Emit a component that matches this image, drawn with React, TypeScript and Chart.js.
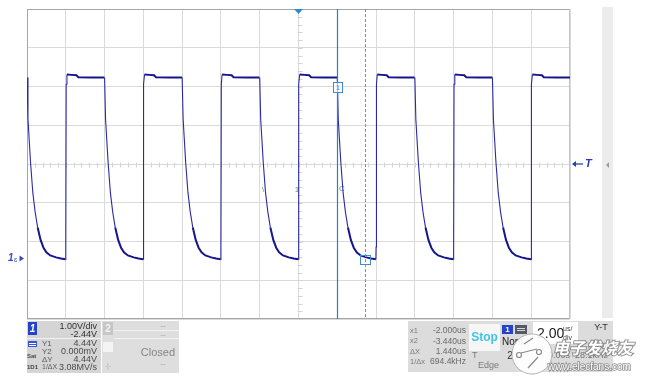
import React, { useEffect, useRef } from "react";
import { Chart, registerables } from "chart.js";

Chart.register(...registerables);

// ---------------- Data ----------------
// horizontal: 2.00 us/div, 14 divisions, trigger at centre (0 us)
const timeGridUs = [-14, -12, -10, -8, -6, -4, -2, 0, 2, 4, 6, 8, 10, 12, 14];
// vertical: 1.00 V/div, offset -2.44 V  -> centre = 2.44 V
const voltGridV = [-1.56, -0.56, 0.44, 1.44, 2.44, 3.44, 4.44, 5.44, 6.44];

// falling-edge instants of the square wave (us)
const fallTimesUs = [-14, -10, -6, -2, 2, 6, 10, 14];
// one period of the measured waveform, relative to a falling edge
const cycleOffsetUs = [0, 0.05, 0.18, 0.3, 0.42, 0.55, 0.7, 0.85, 1.0, 1.2, 1.5, 1.75, 1.99, 2.0, 2.02, 2.06, 2.3, 2.55, 2.65, 3.3, 3.99];
const cycleVolts = [4.67, 3.6, 2.5, 1.7, 1.2, 0.8, 0.48, 0.28, 0.16, 0.08, 0.03, 0.0, -0.02, 0.3, 4.5, 4.75, 4.74, 4.73, 4.68, 4.67, 4.67];

const triggerPosUs = 0;
const triggerLevelV = 2.44;
const groundLevelV = 0;
const cursorX1Us = 2.0;
const cursorX2Us = 3.44;
const cursorY1V = 4.44;
const cursorY2V = 0;

const greenMarkT = [-1.83, -0.08, 2.24];
const greenMarkV = [1.77, 1.77, 1.8];
const greenMarkS = ["\\", "1", "C"];

// readout panels
const ch1Rows = ["1.00V/div", "-2.44V"];
const cursorLabels = ["Y1", "Y2", "ΔY", "1/ΔX"];
const cursorValues = ["4.44V", "0.000mV", "4.44V", "3.08MV/s"];
const xCursorLabels = ["x1", "x2", "ΔX", "1/Δx"];
const xCursorValues = ["-2.000us", "-3.440us", "1.440us", "694.4kHz"];
const timebaseText = "2.00";

const waveform = fallTimesUs.flatMap((t0) =>
  cycleOffsetUs.map((dt, i) => ({ x: t0 + dt, y: cycleVolts[i] }))
);

const FONT = '"Liberation Sans", Arial, sans-serif';

function txt(
  ctx: CanvasRenderingContext2D,
  s: string,
  x: number,
  y: number,
  size = 9,
  color = "#474747",
  align: CanvasTextAlign = "left",
  weight = "normal",
  family = FONT
) {
  ctx.font = `${weight} ${size}px ${family}`;
  ctx.fillStyle = color;
  ctx.textAlign = align;
  ctx.textBaseline = "middle";
  ctx.fillText(s, x, y);
}

const scopePlugin = {
  id: "scopeDecor",
  beforeDatasetsDraw(chart: any) {
    const { ctx, chartArea: a, scales } = chart;
    const xs = scales.x;
    const ys = scales.y;
    ctx.save();
    // minor ticks on the centre lines
    ctx.strokeStyle = "#d4d4d4";
    ctx.lineWidth = 1;
    const cy = Math.round(ys.getPixelForValue((ys.min + ys.max) / 2)) + 0.5;
    const cx = Math.round(xs.getPixelForValue((xs.min + xs.max) / 2)) + 0.5;
    ctx.beginPath();
    for (let k = 0; k <= 70; k++) {
      const px = Math.round(a.left + ((a.right - a.left) * k) / 70) + 0.5;
      ctx.moveTo(px, cy - 2);
      ctx.lineTo(px, cy + 3);
    }
    for (let k = 0; k <= 40; k++) {
      const py = Math.round(a.top + ((a.bottom - a.top) * k) / 40) + 0.5;
      ctx.moveTo(cx - 2, py);
      ctx.lineTo(cx + 3, py);
    }
    ctx.stroke();
    // frame
    ctx.lineWidth = 1;
    ctx.strokeStyle = "#a6a6a6";
    ctx.beginPath();
    ctx.moveTo(a.left + 0.5, a.top + 0.5);
    ctx.lineTo(a.right - 0.5, a.top + 0.5);
    ctx.moveTo(a.left + 0.5, a.top);
    ctx.lineTo(a.left + 0.5, a.bottom);
    ctx.moveTo(a.left, a.bottom - 0.5);
    ctx.lineTo(a.right, a.bottom - 0.5);
    ctx.stroke();
    ctx.strokeStyle = "#c4c4c4";
    ctx.beginPath();
    ctx.moveTo(a.right - 0.5, a.top);
    ctx.lineTo(a.right - 0.5, a.bottom);
    ctx.stroke();
    // green markers
    greenMarkS.forEach((s, i) => {
      txt(ctx, s, xs.getPixelForValue(greenMarkT[i]), ys.getPixelForValue(greenMarkV[i]), 8, "#5aa05a", "center");
    });
    ctx.restore();
  },
  afterDatasetsDraw(chart: any) {
    const { ctx, chartArea: a, scales } = chart;
    const xs = scales.x;
    const ys = scales.y;
    ctx.save();
    // cursors
    const c1 = Math.round(xs.getPixelForValue(cursorX1Us)) + 0.5;
    const c2 = Math.round(xs.getPixelForValue(cursorX2Us)) + 0.5;
    ctx.strokeStyle = "#1f84c0";
    ctx.lineWidth = 1.2;
    ctx.beginPath();
    ctx.moveTo(c1, a.top);
    ctx.lineTo(c1, a.bottom);
    ctx.stroke();
    ctx.lineWidth = 1;
    ctx.strokeStyle = "#4aa0e0";
    ctx.setLineDash([3, 2]);
    ctx.beginPath();
    ctx.moveTo(c2, a.top);
    ctx.lineTo(c2, a.bottom);
    ctx.stroke();
    ctx.setLineDash([]);
    // cursor boxes
    const y1 = Math.round(ys.getPixelForValue(cursorY1V)) + 0.5;
    const y2 = Math.round(ys.getPixelForValue(cursorY2V)) + 0.5;
    ctx.strokeStyle = "#3c8ed4";
    ctx.fillStyle = "rgba(255,255,255,0.6)";
    ctx.fillRect(c1 - 4, y1 - 5, 9, 10);
    ctx.strokeRect(c1 - 4, y1 - 5, 9, 10);
    txt(ctx, "1", c1 + 0.5, y1 + 0.5, 7, "#3c8ed4", "center");
    ctx.strokeRect(c2 - 5, y2 - 4, 10, 9);
    // trigger position marker
    const tx = xs.getPixelForValue(triggerPosUs);
    ctx.fillStyle = "#2d8bd6";
    ctx.beginPath();
    ctx.moveTo(tx - 4.5, a.top);
    ctx.lineTo(tx + 4.5, a.top);
    ctx.lineTo(tx, a.top + 5);
    ctx.closePath();
    ctx.fill();
    // trigger level "<- T"
    const ty = ys.getPixelForValue(triggerLevelV);
    ctx.strokeStyle = "#2a3cb6";
    ctx.fillStyle = "#2a3cb6";
    ctx.lineWidth = 1.3;
    ctx.beginPath();
    ctx.moveTo(a.right + 3, ty);
    ctx.lineTo(a.right + 13, ty);
    ctx.stroke();
    ctx.beginPath();
    ctx.moveTo(a.right + 2, ty);
    ctx.lineTo(a.right + 6, ty - 3);
    ctx.lineTo(a.right + 6, ty + 3);
    ctx.closePath();
    ctx.fill();
    txt(ctx, "T", a.right + 15, ty, 11, "#2a3cb6", "left", "italic bold");
    // ground marker "1"
    const gy = ys.getPixelForValue(groundLevelV);
    txt(ctx, "1", 8, gy, 10, "#3a4ac4", "left", "italic bold");
    txt(ctx, "ɛ", 14, gy + 2, 7, "#3a4ac4", "left", "normal");
    ctx.fillStyle = "#3a4ac4";
    ctx.beginPath();
    ctx.moveTo(19.5, gy - 3);
    ctx.lineTo(24, gy);
    ctx.lineTo(19.5, gy + 3);
    ctx.closePath();
    ctx.fill();

    // right scroll bar
    ctx.fillStyle = "#ececec";
    ctx.fillRect(602, 7, 11, 311);
    ctx.fillStyle = "#9a9a9a";
    ctx.beginPath();
    ctx.moveTo(606, 165);
    ctx.lineTo(609, 162);
    ctx.lineTo(609, 168);
    ctx.closePath();
    ctx.fill();

    // ---------- left readout panel ----------
    ctx.fillStyle = "#d5d5d5";
    ctx.fillRect(27, 321, 74, 52);
    ctx.fillStyle = "#dedede";
    ctx.fillRect(102, 321, 77, 52);
    ctx.strokeStyle = "#f2f2f2";
    ctx.lineWidth = 1;
    ctx.beginPath();
    ctx.moveTo(27, 338.5);
    ctx.lineTo(101, 338.5);
    ctx.moveTo(114, 330.5);
    ctx.lineTo(179, 330.5);
    ctx.moveTo(114, 338.5);
    ctx.lineTo(179, 338.5);
    ctx.stroke();
    ctx.fillStyle = "#2344c8";
    ctx.fillRect(28, 322, 9, 13);
    txt(ctx, "1", 32.5, 329, 10, "#ffffff", "center", "italic bold");
    txt(ctx, ch1Rows[0], 97, 326.5, 9, "#303030", "right");
    txt(ctx, ch1Rows[1], 97, 334.5, 9, "#303030", "right");
    ctx.fillStyle = "#3556d0";
    ctx.fillRect(28, 341, 9, 6);
    ctx.fillStyle = "#ffffff";
    ctx.fillRect(29, 343, 7, 1);
    ctx.fillRect(29, 345, 7, 1);
    const rowsY = [343.5, 351.5, 359.5, 367.5];
    cursorLabels.forEach((l, i) => {
      txt(ctx, l, 42, rowsY[i], i === 3 ? 7 : 8, "#5a5a5a", "left");
      txt(ctx, cursorValues[i], 97, rowsY[i], 9, "#4a4a4a", "right");
    });
    txt(ctx, "Sat", 27, 356.5, 6, "#444", "left", "bold");
    txt(ctx, "1D1", 27, 367.5, 6, "#444", "left", "bold");
    ctx.fillStyle = "#c6c6c6";
    ctx.fillRect(103, 322, 10, 13);
    txt(ctx, "2", 108, 329, 10, "#f4f4f4", "center", "bold");
    ctx.fillRect(103, 342, 10, 10);
    txt(ctx, "-", 108, 346.5, 8, "#f4f4f4", "center", "bold");
    txt(ctx, "--", 163, 325.5, 8, "#a0a0a0", "center");
    txt(ctx, "--", 163, 334.5, 8, "#a0a0a0", "center");
    txt(ctx, "Closed", 175, 352.5, 11, "#858585", "right");
    txt(ctx, "--", 163, 363.5, 8, "#a0a0a0", "center");
    txt(ctx, "-|-", 108, 366.5, 7, "#b0b0b0", "center");

    // ---------- right readout panel ----------
    ctx.fillStyle = "#dcdcdc";
    ctx.fillRect(408, 321, 205, 51);
    xCursorLabels.forEach((l, i) => {
      const yy = 331 + i * 10.3;
      txt(ctx, l, 410, yy, 7.5, "#7a7a7a", "left");
      txt(ctx, xCursorValues[i], 466, yy, 8.5, "#6a6a6a", "right");
    });
    ctx.fillStyle = "#f6f6f6";
    ctx.fillRect(469, 324, 31, 27);
    txt(ctx, "Stop", 484.5, 337.5, 12, "#3ec6e6", "center", "bold");
    txt(ctx, "T", 472, 356, 9, "#7a7a7a", "left");
    txt(ctx, "Edge", 478, 366, 9, "#7a7a7a", "left");
    ctx.fillStyle = "#2642c8";
    ctx.fillRect(502, 325, 11, 9);
    txt(ctx, "1", 507.5, 329.5, 8, "#ffffff", "center", "bold");
    ctx.fillStyle = "#555a66";
    ctx.fillRect(515, 325, 12, 9);
    ctx.fillStyle = "#d8d8d8";
    ctx.fillRect(517, 328, 8, 1);
    ctx.fillRect(517, 330, 8, 1);
    txt(ctx, "Nom", 502, 342, 10, "#202020", "left");
    txt(ctx, "2", 510, 356, 10, "#303030", "center");
    ctx.fillStyle = "#ffffff";
    ctx.fillRect(533, 322, 45, 22);
    txt(ctx, timebaseText, 537, 334, 14, "#202020", "left");
    txt(ctx, "us/", 563, 329, 7, "#404040", "left");
    txt(ctx, "div", 563, 338, 7, "#404040", "left");
    txt(ctx, "Y-T", 601, 328, 9, "#303030", "center");
    txt(ctx, "0.00s", 548, 356, 9, "#707070", "left");
    txt(ctx, "28.1kHz", 575, 356, 9, "#707070", "left");

    // watermark logo
    ctx.fillStyle = "rgba(255,255,255,0.92)";
    ctx.strokeStyle = "#b4b4b4";
    ctx.lineWidth = 1;
    ctx.beginPath();
    ctx.arc(532, 354, 20, 0, Math.PI * 2);
    ctx.fill();
    ctx.stroke();
    ctx.strokeStyle = "#8a8a8a";
    ctx.lineWidth = 1.2;
    ctx.beginPath();
    ctx.arc(519, 355, 2.5, 0, Math.PI * 2);
    ctx.moveTo(541.5, 352);
    ctx.arc(539, 352, 2.5, 0, Math.PI * 2);
    ctx.stroke();
    ctx.beginPath();
    ctx.moveTo(521, 353);
    ctx.lineTo(537, 349);
    ctx.moveTo(524, 344);
    ctx.lineTo(533, 338);
    ctx.moveTo(528, 368);
    ctx.lineTo(538, 357);
    ctx.stroke();
    // watermark text
    ctx.lineWidth = 2;
    ctx.strokeStyle = "rgba(120,120,120,0.8)";
    ctx.font = `italic bold 16px "Noto Sans CJK SC", sans-serif`;
    ctx.textAlign = "left";
    ctx.textBaseline = "middle";
    ctx.strokeText("电子发烧友", 553, 348);
    ctx.fillStyle = "#ffffff";
    ctx.fillText("电子发烧友", 553, 348);
    ctx.font = `10px ${FONT}`;
    ctx.lineWidth = 1.5;
    ctx.strokeText("www.elecfans.com", 548, 367);
    ctx.fillText("www.elecfans.com", 548, 367);

    ctx.restore();
  },
};

export default function App() {
  const ref = useRef<HTMLCanvasElement | null>(null);
  useEffect(() => {
    if (!ref.current) return;
    const chart = new Chart(ref.current, {
      type: "line",
      data: {
        datasets: [
          {
            data: waveform,
            borderColor: "#1a1a92",
            borderWidth: 1.6,
            pointRadius: 0,
            tension: 0,
            segment: {
              borderWidth: (c: any) => {
                const dx = Math.abs(c.p1.x - c.p0.x);
                const dy = Math.abs(c.p1.y - c.p0.y);
                return dy > 3 * dx + 4 ? 1.1 : 2.0;
              },
              borderColor: (c: any) => {
                const dx = Math.abs(c.p1.x - c.p0.x);
                const dy = Math.abs(c.p1.y - c.p0.y);
                return dy > 3 * dx + 4 ? "#2a2aa6" : "#15158c";
              },
            },
          },
        ],
      },
      options: {
        responsive: false,
        animation: false,
        parsing: true,
        layout: { padding: { left: 27, top: 9, right: 89, bottom: 61 } },
        plugins: { legend: { display: false }, tooltip: { enabled: false } },
        scales: {
          x: {
            type: "linear",
            min: timeGridUs[0],
            max: timeGridUs[timeGridUs.length - 1],
            afterBuildTicks: (s: any) => {
              s.ticks = timeGridUs.map((v) => ({ value: v }));
            },
            ticks: { display: false },
            grid: { color: "#dadada", drawTicks: false, lineWidth: 1 },
            border: { display: false },
          },
          y: {
            type: "linear",
            min: voltGridV[0],
            max: voltGridV[voltGridV.length - 1],
            afterBuildTicks: (s: any) => {
              s.ticks = voltGridV.map((v) => ({ value: v }));
            },
            ticks: { display: false },
            grid: { color: "#dadada", drawTicks: false, lineWidth: 1 },
            border: { display: false },
          },
        },
      } as any,
      plugins: [scopePlugin],
    });
    return () => chart.destroy();
  }, []);
  return (
    <div style={{ position: "fixed", left: 0, top: 0, width: 659, height: 380, background: "#fff" }}>
      <canvas ref={ref} width={659} height={380} style={{ display: "block" }} />
    </div>
  );
}
